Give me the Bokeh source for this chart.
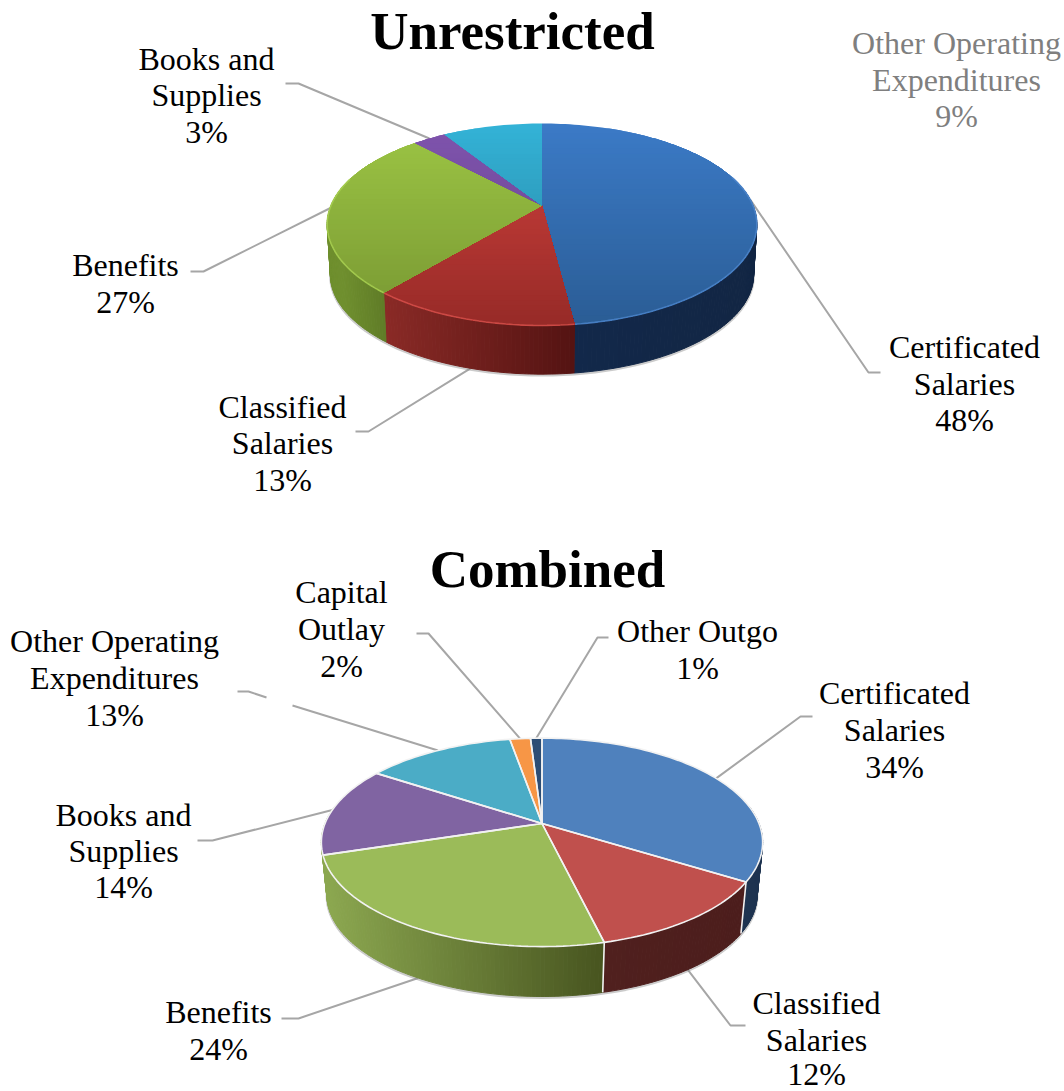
import math
from bokeh.plotting import figure
from bokeh.models import Range1d
from bokeh.core.properties import value
from bokeh.embed import file_html
from bokeh.resources import INLINE

# ---- data ----
unres_names = ["Certificated Salaries", "Classified Salaries", "Benefits", "Books and Supplies", "Other Operating Expenditures"]
unres_values = [48.0, 13.1, 26.9, 3.0, 9.0]
comb_names = ["Certificated Salaries", "Classified Salaries", "Benefits", "Books and Supplies", "Other Operating Expenditures", "Capital Outlay", "Other Outgo"]
comb_values = [33.8, 12.4, 24.0, 14.0, 13.0, 1.8, 1.0]

# ---- styles / layout (in picture pixels) ----
W, H = 1064, 1091
SERIF = value("Liberation Serif")
LABEL_PX, TITLE_PX = "32px", "53px"
LEADER = "#a6a6a6"
TEXT_DY = -1.5

def hex2(c):
    return tuple(int(c[i:i+2], 16) for i in (1, 3, 5))

def mix(c1, c2, t):
    t = max(0, min(1, t))
    a, b = hex2(c1), hex2(c2)
    return "#%02x%02x%02x" % tuple(round(a[i] + (b[i] - a[i]) * t) for i in range(3))

def pct(v):
    return f"{round(v)}%"

U = dict(cx=541.5, cy=205, R=211.0, c=97.4, k=0.188, s=0.985, d=50.5,
         top=[("#3b7ac6", "#2a5c94"), ("#d0413d", "#962a27"), ("#9cc544", "#779632"), ("#7f54ad", "#65408a"), ("#33b2d6", "#27809c")],
         side=[("#12284a", "#122644"), ("#8a2a26", "#541312"), ("#6f8f2e", "#5f7c27"), ("#4a2f68", "#4a2f68"), ("#1b6a80", "#1b6a80")],
         rim=["#4d86cc", "#d8514c", "#a9d152", "#8a60b8", "#48bcdc"], outline=None)
C = dict(cx=541.5, cy=823, R=217.0, c=100.8, k=0.181, s=0.975, d=53,
         top=[(x, x) for x in ("#4f81bd", "#c0504d", "#9bbb59", "#8064a2", "#4bacc6", "#f79646", "#2c4d75")],
         side=[("#1e3350", "#1e3350"), ("#50201e", "#4c1d1c"), ("#8ca850", "#47541f"), ("#8ca850", "#8ca850"), ("#2d6777", "#2d6777"), ("#94592a", "#94592a"), ("#1a2e46", "#1a2e46")],
         rim=None, outline="#f2f2f2")

def pt(f, g, bottom=False):
    a = 2 * math.pi * f
    sx, nr = math.sin(a), -math.cos(a)
    den = 1 - g["k"] * nr
    X, Y = g["R"] * sx / den, g["c"] * nr / den
    if bottom:
        return g["cx"] + g["s"] * X, g["cy"] + g["s"] * Y + g["d"]
    return g["cx"] + X, g["cy"] + Y

def clip_below(poly, t):
    out = []
    for i in range(len(poly)):
        a, b = poly[i], poly[(i + 1) % len(poly)]
        ina, inb = a[1] >= t, b[1] >= t
        if ina:
            out.append(a)
        if ina != inb:
            u = (t - a[1]) / (b[1] - a[1])
            out.append((a[0] + u * (b[0] - a[0]), t))
    return out

p = figure(width=W, height=H, x_range=Range1d(0, W), y_range=Range1d(H, 0),
           output_backend="svg", toolbar_location=None, min_border=0,
           outline_line_color=None, background_fill_color="white", border_fill_color="white")
p.axis.visible = False
p.grid.visible = False

def draw_leaders(values, g, layout):
    total = sum(values)
    cum = 0
    for v, (on_bottom, route) in zip(values, layout):
        mid = (cum + v / 2) / total
        cum += v
        if route is None:
            continue
        sx, sy = pt(mid, g, on_bottom)
        xs = [sx] + [q[0] for q in route]
        ys = [sy] + [q[1] for q in route]
        p.line(xs, ys, line_color=LEADER, line_width=2)

def draw_pie(values, g):
    total = sum(values)
    bounds = [0]
    for v in values:
        bounds.append(bounds[-1] + v / total)
    # soft contact edge under the disc
    n = 90
    xs, ys = [], []
    for i in range(n + 1):
        f = 0.2 + 0.6 * i / n
        x, y = pt(f, g, True)
        xs.append(x); ys.append(y + 1.2)
    p.line(xs, ys, line_color="#8c8c8c", line_alpha=0.45, line_width=2.5)
    # walls, one thin strip per step of the arc
    for i, v in enumerate(values):
        f0, f1 = bounds[i], bounds[i + 1]
        lo, hi = max(f0, 0.22), min(f1, 0.78)
        if hi <= lo:
            continue
        steps = max(2, int((hi - lo) * 360))
        vis = [lo + (hi - lo) * j / steps for j in range(steps + 1)]
        x_lo, x_hi = pt(vis[-1], g)[0], pt(vis[0], g)[0]
        qx, qy, col = [], [], []
        for a, b in zip(vis[:-1], vis[1:]):
            A, B = pt(a, g), pt(b, g)
            Ab, Bb = pt(a, g, True), pt(b, g, True)
            qx.append([A[0], B[0], Bb[0], Ab[0]])
            qy.append([A[1], B[1], Bb[1], Ab[1]])
            t = ((A[0] + B[0]) / 2 - x_lo) / max(1, x_hi - x_lo)
            col.append(mix(g["side"][i][0], g["side"][i][1], t))
        p.patches(qx, qy, fill_color=col, line_color=col, line_width=1)
    # top face: stacked bands for the vertical shading
    y_top = g["cy"] - g["c"] / (1 + g["k"])
    y_bot = g["cy"] + g["c"] / (1 - g["k"])
    for i, v in enumerate(values):
        f0, f1 = bounds[i], bounds[i + 1]
        steps = max(3, int((f1 - f0) * 240))
        poly = [(g["cx"], g["cy"])] + [pt(f0 + (f1 - f0) * j / steps, g) for j in range(steps + 1)]
        c0, c1 = g["top"][i]
        if c0 == c1:
            bands = [y_top - 1]
        else:
            bands = [y_top + (y_bot - y_top) * j / 40 for j in range(40)]
        for t in bands:
            q = clip_below(poly, t)
            if len(q) < 3:
                continue
            col = mix(c0, c1, (t - y_top) / (y_bot - y_top))
            p.patch([a for a, _ in q], [b for _, b in q], fill_color=col, line_color=None)
        if g["rim"]:
            fr = [f0 + (f1 - f0) * j / steps for j in range(steps + 1)]
            arc = [pt(f, g) for f in fr if 0.2 <= f <= 0.8]
            if len(arc) > 1:
                p.line([a for a, _ in arc], [b for _, b in arc], line_color=g["rim"][i], line_width=1.6, line_alpha=0.8)
    if g["outline"]:
        for i, v in enumerate(values):
            f0, f1 = bounds[i], bounds[i + 1]
            steps = max(3, int((f1 - f0) * 240))
            arc = [pt(f0 + (f1 - f0) * j / steps, g) for j in range(steps + 1)]
            p.line([g["cx"]] + [a for a, _ in arc] + [g["cx"]], [g["cy"]] + [b for _, b in arc] + [g["cy"]],
                   line_color=g["outline"], line_width=1.6)
            if 0.22 < f1 < 0.6:
                A, B = pt(f1, g), pt(f1, g, True)
                p.line([A[0], B[0]], [A[1], B[1]], line_color=g["outline"], line_width=1.6)

def label(rows, x, y, color="black", size=LABEL_PX, style="normal"):
    p.text([x] * len(rows), [v + TEXT_DY for v in y], text=rows, text_font=SERIF, text_font_size=size,
           text_font_style=style, text_color=color, text_align="center", text_baseline="middle")

# ---- leaders (behind the discs) ----
draw_leaders(unres_values, U, [
    (False, [(868, 372), (880, 372)]),
    (True, [(368, 431), (355, 431)]),
    (False, [(203, 271), (190, 271)]),
    (False, [(298, 83), (285, 83)]),
    (False, None),
])
draw_leaders(comb_values, C, [
    (False, [(800, 716), (812, 716)]),
    (True, [(730, 1025), (745, 1025)]),
    (True, [(298, 1018), (281, 1018)]),
    (False, [(212, 840), (197, 840)]),
    (False, [(292, 705)]),
    (False, [(428, 633), (416, 633)]),
    (False, [(597, 637), (608, 637)]),
])
p.line([266, 248, 237], [697, 691, 691], line_color=LEADER, line_width=2)

draw_pie(unres_values, U)
draw_pie(comb_values, C)

# ---- texts ----
label(["Unrestricted"], 512, [32], size=TITLE_PX, style="bold")
label(["Combined"], 547, [570], size=TITLE_PX, style="bold")

label(["Books and", "Supplies", pct(unres_values[3])], 206, [60, 96, 133])
label(["Other Operating", "Expenditures", pct(unres_values[4])], 956, [44, 81, 117], color="#7f7f7f")
label(["Certificated", "Salaries", pct(unres_values[0])], 964, [348, 385, 421])
label(["Classified", "Salaries", pct(unres_values[1])], 282, [408, 444, 481])
label(["Benefits", pct(unres_values[2])], 125, [266, 303])

label(["Capital", "Outlay", pct(comb_values[5])], 341, [593, 630, 667])
label(["Other Outgo", pct(comb_values[6])], 697, [632, 669])
label(["Certificated", "Salaries", pct(comb_values[0])], 894, [694, 731, 768])
label(["Other Operating", "Expenditures", pct(comb_values[4])], 114, [642, 679, 716])
label(["Books and", "Supplies", pct(comb_values[3])], 123, [816, 852, 888])
label(["Benefits", pct(comb_values[2])], 218, [1013, 1050])
label(["Classified", "Salaries", pct(comb_values[1])], 816, [1004, 1041, 1074.5])

open("out.html", "w").write(file_html(p, INLINE))
